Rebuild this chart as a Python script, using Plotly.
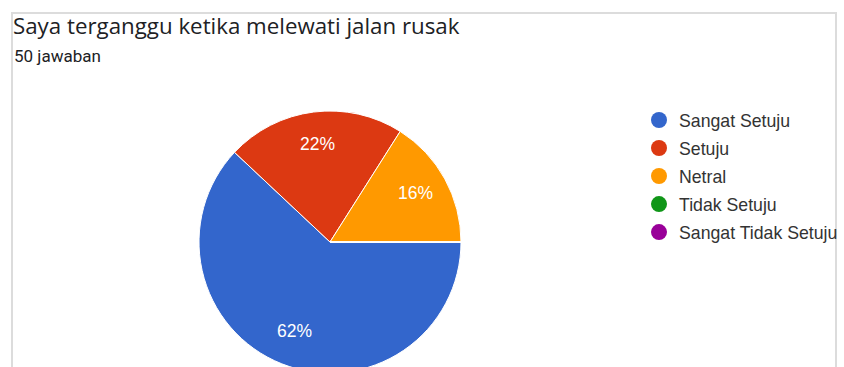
import plotly.graph_objects as go
import math

# ---- data ----
categories = ["Sangat Setuju", "Setuju", "Netral", "Tidak Setuju", "Sangat Tidak Setuju"]
values = [31, 11, 8, 0, 0]          # 50 jawaban -> 62%, 22%, 16%, 0%, 0%
colors = ["#3366cc", "#dc3912", "#ff9900", "#109618", "#990099"]
title_text = "Saya terganggu ketika melewati jalan rusak"
subtitle_text = "50 jawaban"

# ---- layout constants (pixels) ----
W, H = 844, 400
CX, CY, R = 330, 242, 131
ROT = 90  # first slice starts at 3 o'clock, clockwise

def px(x):
    return x / W

def py(y):
    return 1 - y / H

fig = go.Figure()

fig.add_trace(go.Pie(
    labels=categories,
    values=values,
    sort=False,
    direction="clockwise",
    rotation=ROT,
    marker=dict(colors=colors, line=dict(color="white", width=1)),
    textinfo="none",
    hoverinfo="label+percent",
    showlegend=False,
    domain=dict(x=[px(CX - R), px(CX + R)], y=[py(CY + R), py(CY - R)]),
))

# percentage labels, placed from the data
total = sum(values)
cum = 0
annotations = []
for v in values:
    if v == 0:
        continue
    mid = cum + v / 2
    cum += v
    theta = math.radians(ROT + 360 * mid / total)
    rr = 0.745 * R
    lx = CX + rr * math.sin(theta)
    ly = CY - rr * math.cos(theta) - 1.5
    annotations.append(dict(
        x=px(lx), y=py(ly), xref="paper", yref="paper",
        text=f"{round(100 * v / total)}%", showarrow=False,
        font=dict(family="Liberation Sans, Arial, sans-serif", size=17.5, color="white"),
        xanchor="center", yanchor="middle",
    ))

# legend entries (circle markers)
for i, (c, col) in enumerate(zip(categories, colors)):
    fig.add_trace(go.Scatter(
        x=[None], y=[None], mode="markers", name=c,
        marker=dict(symbol="circle", size=16, color=col),
        legendgroup=f"g{i}",
    ))

annotations.append(dict(
    x=px(11), y=py(25), xref="paper", yref="paper", text=title_text,
    showarrow=False, xanchor="left", yanchor="middle",
    font=dict(family="Open Sans, Roboto, sans-serif", size=22.3, color="#202124"),
))
annotations.append(dict(
    x=px(12), y=py(56), xref="paper", yref="paper", text=subtitle_text,
    showarrow=False, xanchor="left", yanchor="middle",
    font=dict(family="Roboto, Arial, sans-serif", size=17, color="#202124"),
))

fig.update_layout(
    width=W, height=H,
    margin=dict(l=0, r=0, t=0, b=0),
    paper_bgcolor="white", plot_bgcolor="white",
    xaxis=dict(visible=False), yaxis=dict(visible=False),
    annotations=annotations,
    legend=dict(
        x=px(639), y=py(102), xanchor="left", yanchor="top",
        font=dict(family="Liberation Sans, Arial, sans-serif", size=17.7, color="#333333"),
        tracegroupgap=2, bgcolor="rgba(0,0,0,0)",
    ),
    shapes=[dict(
        type="rect", xref="paper", yref="paper",
        x0=px(12), x1=px(836), y0=-0.1, y1=py(13),
        line=dict(color="#dcdcdc", width=2), fillcolor="rgba(0,0,0,0)",
        layer="below",
    )],
)

fig.write_html("out.html", post_script="document.body.style.overflow='hidden';document.body.style.margin='0';")
